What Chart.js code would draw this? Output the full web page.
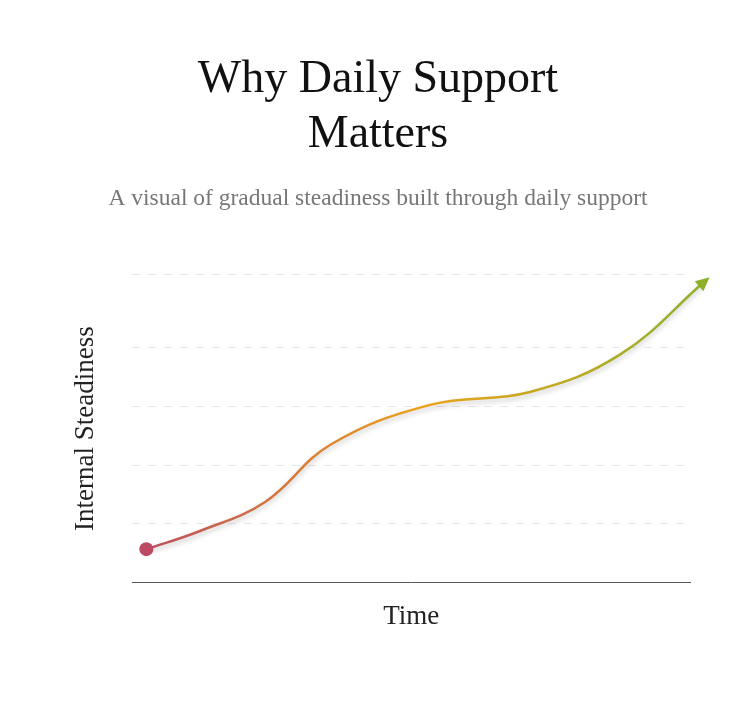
<!DOCTYPE html>
<html><head><meta charset="utf-8">
<script src="https://cdn.jsdelivr.net/npm/chart.js@4"></script>
<style>body{margin:0;background:#fff;width:750px;height:707px;overflow:hidden}#w{position:absolute;left:0;top:0;width:750px;height:707px}</style>
</head><body><div id="w"><canvas id="c"></canvas></div>
<script>
const xValues=[2.5,12,23.8,35.5,53.4,71.3,87.5,102.7];
const yValues=[0.114,0.175,0.275,0.47,0.606,0.650,0.778,1.028];
const gridTicks=[0,0.2,0.4,0.6,0.8,1.05];
const titleLines=["Why Daily Support","Matters"];
const subtitle="A visual of gradual steadiness built through daily support";
const serif="'Liberation Serif','DejaVu Serif',serif";
const ctx=document.getElementById('c').getContext('2d');
function grad(c){const a=c.chart.chartArea;if(!a)return '#e8a020';const g=c.chart.ctx.createLinearGradient(a.left,0,a.right+20,0);g.addColorStop(0,'#bb4a62');g.addColorStop(0.5,'#eba21a');g.addColorStop(1,'#8db22a');return g;}
const arrow={id:'arrow',afterDatasetsDraw(ch){const m=ch.getDatasetMeta(0).data;const p=m[m.length-1],q=m[m.length-2];const c=ch.ctx;
let cx=p.cp1x!==undefined?p.cp1x:q.x, cy=p.cp1y!==undefined?p.cp1y:q.y;const ang=Math.atan2(p.y-cy,p.x-cx);
c.save();c.translate(p.x,p.y);c.rotate(ang);c.fillStyle='#8db22a';c.beginPath();c.moveTo(6,0);c.lineTo(-8,-6.5);c.lineTo(-8,6.5);c.closePath();c.fill();c.restore();
const s=m[0];c.save();c.fillStyle='#bb4a62';c.beginPath();c.arc(s.x,s.y,7,0,Math.PI*2);c.fill();c.restore();}};
const shadow={id:'shadow',beforeDatasetDraw(ch){ch.ctx.save();ch.ctx.shadowColor='rgba(0,0,0,0.22)';ch.ctx.shadowBlur=5;ch.ctx.shadowOffsetY=3;},afterDatasetDraw(ch){ch.ctx.restore();}};
new Chart(ctx,{type:'line',
data:{datasets:[{data:xValues.map((x,i)=>({x,y:yValues[i]})),borderColor:grad,borderWidth:2.5,pointRadius:0,tension:0.4,clip:false}]},
options:{responsive:true,maintainAspectRatio:false,animation:false,
layout:{padding:{left:66,right:60,top:52,bottom:70}},
plugins:{legend:{display:false},tooltip:{enabled:false},
title:{display:true,text:titleLines,font:{family:serif,size:46,weight:'normal'},color:'#111',lineHeight:1.3,padding:{bottom:10}},
subtitle:{display:true,text:subtitle,font:{family:serif,size:23.5},color:'#777',padding:{top:12,bottom:62}}},
scales:{x:{type:'linear',min:0,max:100,grid:{display:false},border:{display:true,color:'#555',width:1},ticks:{display:false},
title:{display:true,text:'Time',font:{family:serif,size:27},color:'#222',padding:{top:10}}},
y:{min:0,max:1.05,afterBuildTicks(a){a.ticks=gridTicks.map(v=>({value:v}));},ticks:{display:false},
grid:{color:c=>c.tick&&c.tick.value===0?'rgba(0,0,0,0)':'#e6e6e6',drawTicks:false},border:{display:false,dash:[8,8]},
title:{display:true,text:'Internal Steadiness',font:{family:serif,size:27},color:'#222',padding:{bottom:30}}}}},
plugins:[shadow,arrow]});
</script></body></html>
